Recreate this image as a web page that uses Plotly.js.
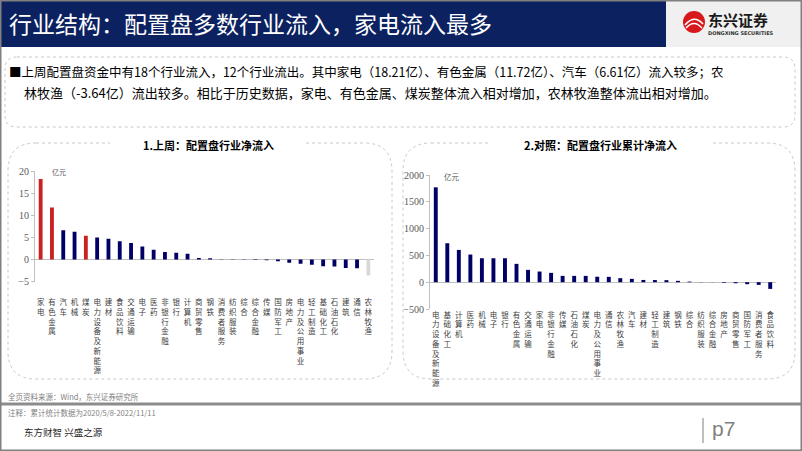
<!DOCTYPE html>
<html>
<head>
<meta charset="utf-8">
<script src="https://cdn.plot.ly/plotly-3.0.1.min.js"></script>
<style>
html,body{margin:0;padding:0;background:#fff;}
#chart{width:802px;height:451px;}
</style>
</head>
<body>
<div id="chart"></div>
<script>
// ---------- DATA ----------
const weekCats = ['家电','有色金属','汽车','机械','煤炭','电力设备及新能源','建材','食品饮料','交通运输','电子','医药','非银行金融','银行','计算机','商贸零售','钢铁','消费者服务','纺织服装','综合','综合金融','传媒','国防军工','房地产','电力及公用事业','轻工制造','基础化工','石油石化','建筑','通信','农林牧渔'];
const weekFlow = [18.21,11.72,6.61,6.26,5.36,4.98,4.68,4.08,3.70,2.94,2.19,1.66,1.51,1.28,0.30,0.28,0.06,0.03,-0.10,-0.15,-0.22,-0.40,-0.78,-1.00,-1.20,-1.55,-1.60,-1.95,-2.00,-3.64];

const cumCats = ['电力设备及新能源','基础化工','计算机','医药','机械','电子','银行','有色金属','交通运输','家电','非银行金融','传媒','石油石化','煤炭','电力及公用事业','通信','农林牧渔','汽车','建材','轻工制造','建筑','钢铁','综合','纺织服装','综合金融','房地产','商贸零售','国防军工','消费者服务','食品饮料'];
const cumFlow = [1770,727,602,516,447,447,447,342,230,199,174,118,118,118,102,100,75,62,42,40,38,25,12,3,-2,-12,-20,-37,-50,-125];

const highlightIn = ['家电','有色金属','煤炭'];
const highlightOut = ['农林牧渔'];

const pageTitle = '行业结构：配置盘多数行业流入，家电流入最多';
const bodyLine1 = '■上周配置盘资金中有18个行业流入，12个行业流出。其中家电（18.21亿）、有色金属（11.72亿）、汽车（6.61亿）流入较多；农';
const bodyLine2 = '林牧渔（-3.64亿）流出较多。相比于历史数据，家电、有色金属、煤炭整体流入相对增加，农林牧渔整体流出相对增加。';
const chart1Title = '1.上周：配置盘行业净流入';
const chart2Title = '2.对照：配置盘行业累计净流入';
const unitLabel = '亿元';
const sourceNote = '全页资料来源：Wind，东兴证券研究所';
const periodNote = '注释：累计统计数据为2020/5/8-2022/11/11';
const slogan = '东方财智 兴盛之源';
const pageNo = 'p7';

// ---------- STYLE ----------
const W = 802, H = 451;
const NAVY = '#000066', RED = '#cc1f1f', GREY_BAR = '#d9d9d9';
const CJK = '"Noto Sans CJK SC", "Noto Sans", sans-serif';
const SERIF = '"Liberation Serif", "DejaVu Serif", serif';
const px = x => x / W;
const py = y => 1 - y / H;

function vert(s){ return s.split('').join('<br>'); }
function barColor(c){
  if (highlightIn.includes(c)) return RED;
  if (highlightOut.includes(c)) return GREY_BAR;
  return NAVY;
}

const traces = [
  {type:'bar', x: weekCats, y: weekFlow, xaxis:'x', yaxis:'y',
   marker:{color: weekCats.map(barColor)}, hoverinfo:'x+y'},
  {type:'bar', x: cumCats, y: cumFlow, xaxis:'x2', yaxis:'y2',
   marker:{color: NAVY}, hoverinfo:'x+y'}
];

function roundRectPath(x0,y0,x1,y1,r){
  const X = v => px(v), Y = v => py(v);
  return `M ${X(x0+r)},${Y(y0)} L ${X(x1-r)},${Y(y0)} Q ${X(x1)},${Y(y0)} ${X(x1)},${Y(y0+r)} ` +
         `L ${X(x1)},${Y(y1-r)} Q ${X(x1)},${Y(y1)} ${X(x1-r)},${Y(y1)} ` +
         `L ${X(x0+r)},${Y(y1)} Q ${X(x0)},${Y(y1)} ${X(x0)},${Y(y1-r)} ` +
         `L ${X(x0)},${Y(y0+r)} Q ${X(x0)},${Y(y0)} ${X(x0+r)},${Y(y0)} Z`;
}
function rectPx(x0,y0,x1,y1,opts){
  return Object.assign({type:'rect', xref:'paper', yref:'paper',
    x0:px(x0), x1:px(x1), y0:py(y1), y1:py(y0)}, opts);
}
function linePx(x0,y0,x1,y1,color,width,dash){
  return {type:'line', xref:'paper', yref:'paper', x0:px(x0), y0:py(y0), x1:px(x1), y1:py(y1),
    line:{color:color, width:width, dash:dash||'solid'}};
}

const shapes = [
  // header
  rectPx(0,0,666,47,{fillcolor:'#0b2160', line:{width:0}}),
  rectPx(666,0,802,47,{fillcolor:'#f0f0f0', line:{width:0}}),
  // logo circle
  {type:'circle', xref:'paper', yref:'paper', x0:px(683), x1:px(705), y0:py(33), y1:py(11),
   fillcolor:'#d7191e', line:{width:0}},
  {type:'path', xref:'paper', yref:'paper', path:`M ${px(685)},${py(25)} Q ${px(694)},${py(14)} ${px(703)},${py(24)}`, line:{color:'#fff', width:1.6}},
  {type:'path', xref:'paper', yref:'paper', path:`M ${px(686)},${py(28)} Q ${px(694)},${py(19)} ${px(702)},${py(28)}`, line:{color:'#fff', width:1.4}},
  // text box
  {type:'path', xref:'paper', yref:'paper', path: roundRectPath(5,57,795,127,12),
   line:{color:'#c8c8c8', width:1, dash:'dot'}},
  // chart panels
  {type:'path', xref:'paper', yref:'paper', path: roundRectPath(8,143,392,379,28),
   line:{color:'#c8c8c8', width:1, dash:'dot'}},
  {type:'path', xref:'paper', yref:'paper', path: roundRectPath(403,143,795,379,28),
   line:{color:'#c8c8c8', width:1, dash:'dot'}},
  rectPx(110,138,305,150,{fillcolor:'#fff', line:{width:0}}),
  rectPx(488,138,712,150,{fillcolor:'#fff', line:{width:0}}),
  // footer
  linePx(0,404,802,404,'#8c8c8c',3),
  linePx(703,418,703,443,'#7f7f7f',1),
  // outer frame
  rectPx(0.5,0.5,801.5,450.5,{line:{color:'#808080', width:2}})
];

function ann(text,x,y,opts){
  return Object.assign({text:text, xref:'paper', yref:'paper', x:px(x), y:py(y),
    xanchor:'left', yanchor:'middle', showarrow:false}, opts);
}

const annotations = [
  ann(pageTitle, 7, 23, {font:{family:CJK, size:23, color:'#ffffff'}}),
  ann('<b>东兴证券</b>', 706, 20, {font:{family:CJK, size:15, color:'#1a1a1a'}}),
  ann('<b>DONGXING SECURITIES</b>', 706, 33, {font:{family:'"DejaVu Sans", sans-serif', size:5, color:'#333'}}),
  ann(bodyLine1, 7, 71, {font:{family:CJK, size:12.5, color:'#000'}}),
  ann(bodyLine2, 22, 93, {font:{family:CJK, size:13, color:'#000'}}),
  ann('<b>'+chart1Title+'</b>', 208, 145, {xanchor:'center', font:{family:CJK, size:11, color:'#000'}}),
  ann('<b>'+chart2Title+'</b>', 600, 145, {xanchor:'center', font:{family:CJK, size:11, color:'#000'}}),
  ann(unitLabel, 50, 172, {font:{family:CJK, size:7, color:'#595959'}}),
  ann(unitLabel, 442, 176, {font:{family:CJK, size:7.5, color:'#595959'}}),
  ann(sourceNote, 6, 396, {font:{family:CJK, size:7.5, color:'#7f7f7f'}}),
  ann(periodNote, 6, 412, {font:{family:CJK, size:7.5, color:'#7f7f7f'}}),
  ann(slogan, 22, 432, {font:{family:CJK, size:9.5, color:'#262626'}}),
  ann(pageNo, 710, 428, {font:{family:'"Liberation Sans", Arial, sans-serif', size:21, color:'#7f7f7f'}})
];

const catAxis = {
  type:'category', showgrid:false, zeroline:false, showline:false, ticks:'',
  tickfont:{family:CJK, size:7.5, color:'#404040'}, tickangle:0, fixedrange:true
};
const valAxis = {
  showgrid:false, zeroline:true, zerolinecolor:'#bfbfbf', zerolinewidth:1,
  showline:true, linecolor:'#bfbfbf', linewidth:1, ticks:'outside', ticklen:3, tickcolor:'#bfbfbf',
  tickfont:{family:SERIF, size:10, color:'#595959'}, fixedrange:true
};

const layout = {
  width: W, height: H,
  margin:{l:0,r:0,t:0,b:0,pad:0},
  paper_bgcolor:'#ffffff', plot_bgcolor:'rgba(0,0,0,0)',
  showlegend:false, bargap:0.66,
  xaxis: Object.assign({}, catAxis, {domain:[px(35), px(374)], anchor:'y',
     tickvals: weekCats, ticktext: weekCats.map(vert), ticklabelstandoff: 15}),
  yaxis: Object.assign({}, valAxis, {domain:[py(281.5), py(171)], anchor:'x',
     range:[-5,20], dtick:5, tick0:0}),
  xaxis2: Object.assign({}, catAxis, {domain:[px(430), px(776)], anchor:'y2',
     tickvals: cumCats, ticktext: cumCats.map(vert), ticklabelstandoff: 0}),
  yaxis2: Object.assign({}, valAxis, {domain:[py(309), py(175)], anchor:'x2',
     range:[-500,2000], dtick:500, tick0:0}),
  shapes: shapes,
  annotations: annotations
};

Plotly.newPlot('chart', traces, layout, {displayModeBar:false, staticPlot:true});
</script>
</body>
</html>
